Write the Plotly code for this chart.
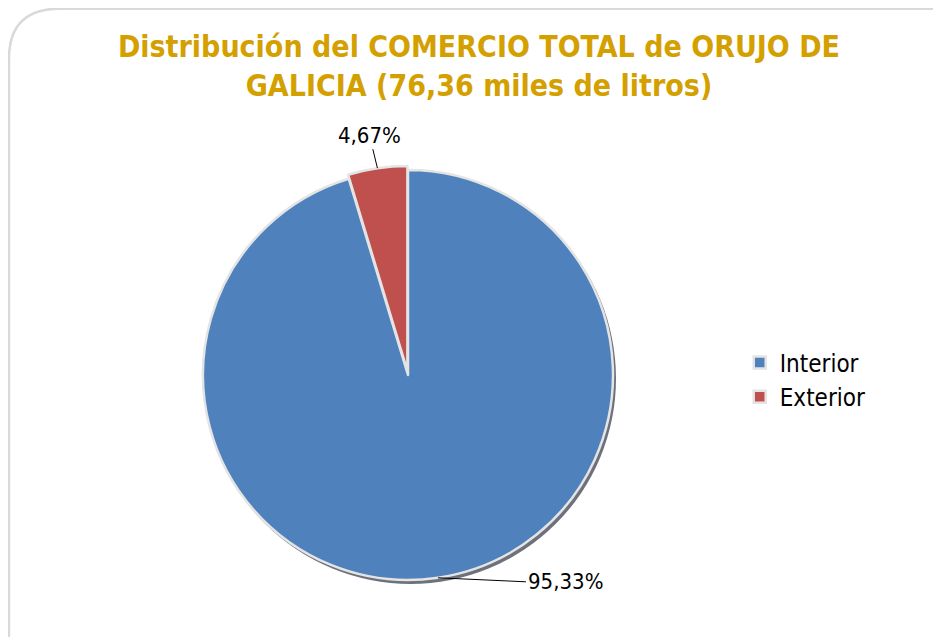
import math
import plotly.graph_objects as go

categories = ["Interior", "Exterior"]
shares = [95.33, 4.67]
colors = ["#4F81BD", "#C0504D"]
title_text = "Distribución del COMERCIO TOTAL de ORUJO DE<br>GALICIA (76,36 miles de litros)"

W, H = 941, 637
OFF = 8  # page body margin
cx, cy, R = 408 - OFF, 375 - OFF, 205
pulls = [0, 0.02]
half = R * (1 + max(pulls))

FONT = "DejaVu Sans Condensed, DejaVu Sans"

fig = go.Figure()
fig.add_trace(go.Pie(
    labels=categories, values=shares, sort=False, direction="clockwise", rotation=0,
    pull=pulls, marker=dict(colors=colors, line=dict(color="#E4E4E4", width=2.5)),
    textinfo="none", hoverinfo="label+percent",
    domain=dict(x=[(cx - half) / W, (cx + half) / W], y=[(H - cy - half) / H, (H - cy + half) / H]),
))

# labels with leader lines, positioned from the slice mid-angles
label_font = dict(family=FONT, size=22, color="#000000")
offsets = [(88, 4, "left"), (-8, -33, "center")]
total = sum(shares)
cum = 0
for v, p, (ax, ay, xa) in zip(shares, pulls, offsets):
    mid = (cum + v / 2) / total * 2 * math.pi
    cum += v
    r = R * (1 + p)
    px = cx + r * math.sin(mid)
    py = cy - r * math.cos(mid)
    fig.add_annotation(
        x=px / W, y=1 - py / H, xref="paper", yref="paper",
        text=f"{v:.2f}%".replace(".", ","), font=label_font,
        showarrow=True, arrowhead=0, arrowwidth=1, arrowcolor="#000000",
        ax=ax, ay=ay, xanchor=xa, standoff=0,
    )

# thin shadow rim under the pie
sx, sy = 2, 3
fig.add_shape(type="circle", xref="paper", yref="paper",
              x0=(cx - R + sx) / W, x1=(cx + R + 1 + sx) / W,
              y0=1 - (cy + R + 1 + sy) / H, y1=1 - (cy - R + sy) / H,
              fillcolor="rgba(60,66,80,0.75)", line=dict(width=0), layer="below")

fig.add_shape(type="path", xref="paper", yref="paper",
              path="M 0.001,-0.05 L 0.001,0.92 Q 0.001,0.999 0.055,0.999 L 0.985,0.999 Q 0.995,0.999 0.995,0.985",
              line=dict(color="#D9D9D9", width=2.5), layer="below")

fig.update_layout(
    width=W, height=H,
    margin=dict(l=0, r=0, t=0, b=0),
    paper_bgcolor="#FFFFFF", plot_bgcolor="#FFFFFF",
    title=dict(text=title_text, x=0.5005, xanchor="center", y=0.923, yanchor="middle",
               font=dict(family=FONT, size=30, color="#D4A000", weight="bold")),
    legend=dict(x=0.7776, y=0.416, xanchor="left", yanchor="middle",
                font=dict(family=FONT, size=24, color="#000000")),
    showlegend=True,
)

fig.write_html("out.html")
